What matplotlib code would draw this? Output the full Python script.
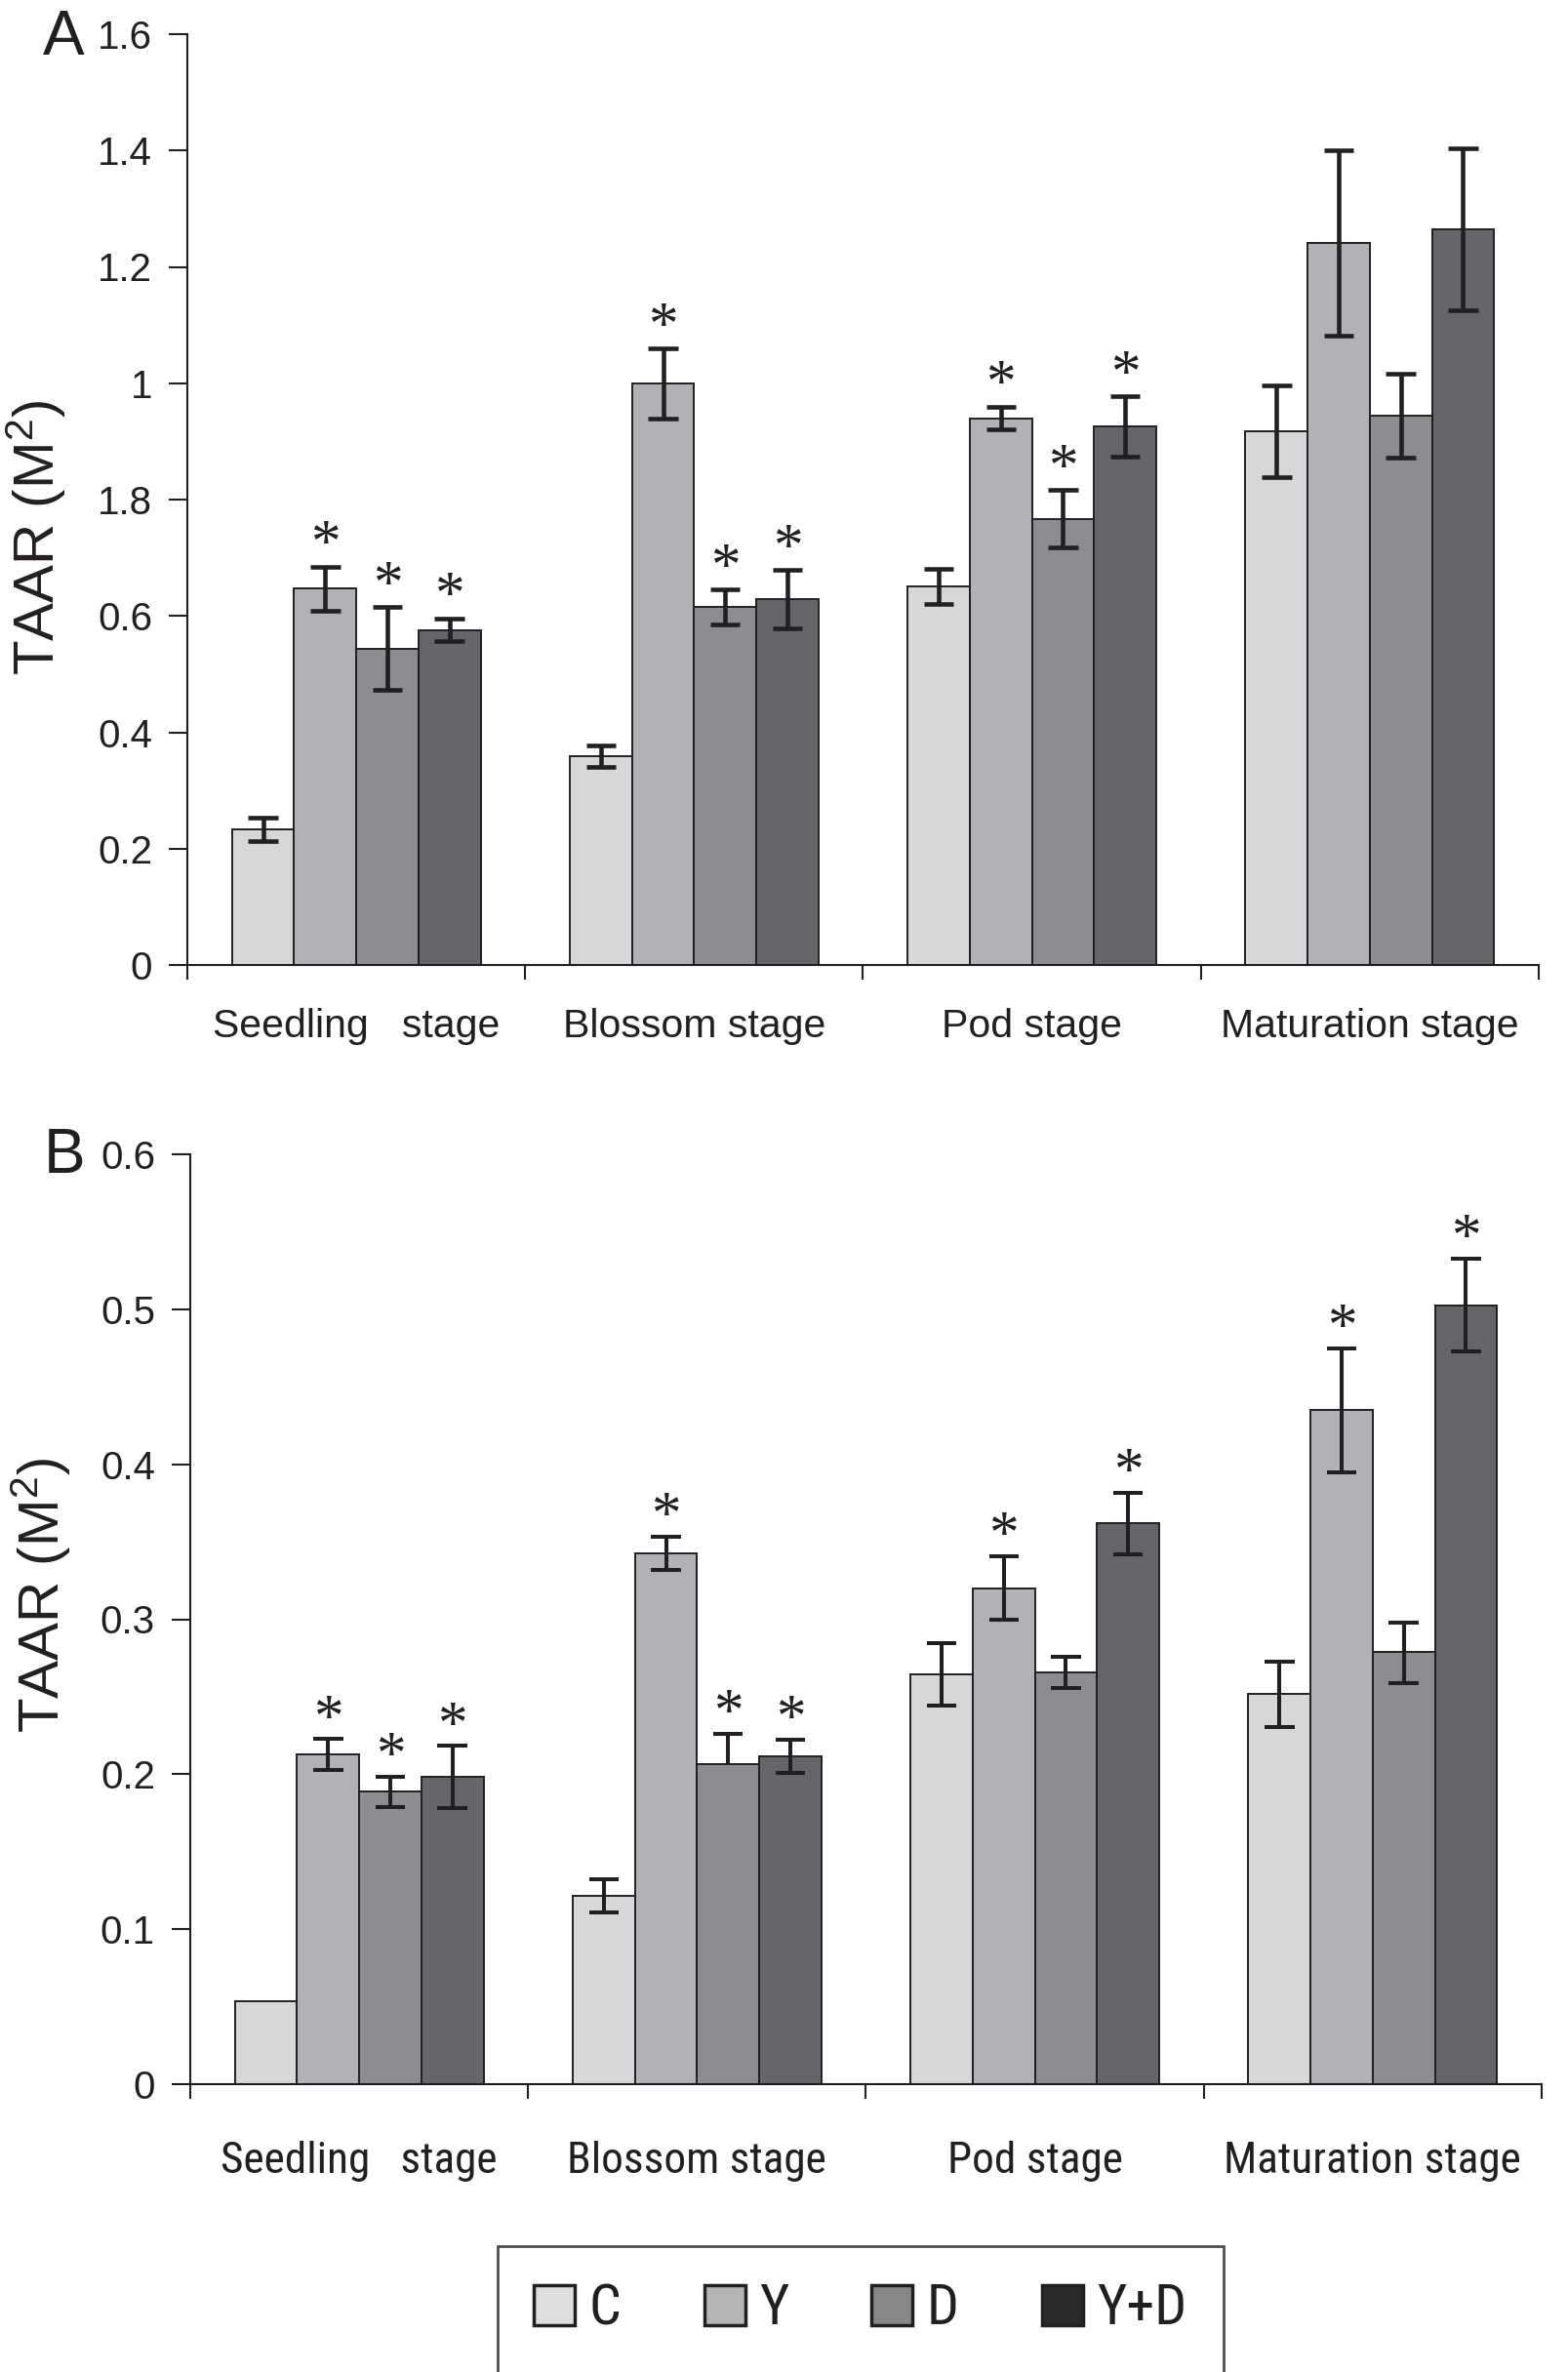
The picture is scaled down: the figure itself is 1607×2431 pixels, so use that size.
import matplotlib
matplotlib.use('Agg')
import matplotlib.pyplot as plt
from matplotlib.patches import Patch
from matplotlib import font_manager as fm
import numpy as np

plt.rcParams['font.family'] = ['Liberation Sans', 'DejaVu Sans']
plt.rcParams['mathtext.default'] = 'regular'

# ---------------- data ----------------
stages = ['Seedling   stage', 'Blossom stage', 'Pod stage', 'Maturation stage']
treatments = ['C', 'Y', 'D', 'Y+D']

# Panel A
a_C = [0.233, 0.359, 0.651, 0.918]
a_Y = [0.647, 1.000, 0.940, 1.241]
a_D = [0.544, 0.615, 0.767, 0.944]
a_YD = [0.576, 0.629, 0.926, 1.265]
a_C_err = [0.020, 0.019, 0.030, 0.079]
a_Y_err = [0.038, 0.060, 0.020, 0.159]
a_D_err = [0.071, 0.030, 0.049, 0.072]
a_YD_err = [0.020, 0.050, 0.052, 0.139]
a_C_sig = [0, 0, 0, 0]
a_Y_sig = [1, 1, 1, 0]
a_D_sig = [1, 1, 1, 0]
a_YD_sig = [1, 1, 1, 0]
a_yticks = [0, 0.2, 0.4, 0.6, 0.8, 1.0, 1.2, 1.4, 1.6]
a_yticklabels = ['0', '0.2', '0.4', '0.6', '1.8', '1', '1.2', '1.4', '1.6']

# Panel B
b_C = [0.0534, 0.1218, 0.2645, 0.2516]
b_Y = [0.2126, 0.3425, 0.3200, 0.4349]
b_D = [0.1886, 0.2062, 0.2655, 0.2789]
b_YD = [0.1982, 0.2116, 0.3617, 0.5027]
b_C_err_lo = [0.0, 0.0107, 0.020, 0.021]
b_C_err_hi = [0.0, 0.0107, 0.020, 0.021]
b_Y_err_lo = [0.010, 0.0107, 0.0205, 0.040]
b_Y_err_hi = [0.010, 0.0107, 0.0205, 0.040]
b_D_err_lo = [0.010, 0.0, 0.010, 0.020]
b_D_err_hi = [0.010, 0.020, 0.010, 0.019]
b_YD_err_lo = [0.020, 0.0105, 0.020, 0.030]
b_YD_err_hi = [0.020, 0.0105, 0.020, 0.030]
b_C_sig = [0, 0, 0, 0]
b_Y_sig = [1, 1, 1, 1]
b_D_sig = [1, 1, 0, 0]
b_YD_sig = [1, 1, 1, 1]
b_yticks = [0, 0.1, 0.2, 0.3, 0.4, 0.5, 0.6]
b_yticklabels = ['0', '0.1', '0.2', '0.3', '0.4', '0.5', '0.6']

# ---------------- style ----------------
bar_colors = ['#d6d7d9', '#b1b2b5', '#8c8d90', '#65666a']
legend_colors = ['#dcdddf', '#b4b5b7', '#87888a', '#2b2a2b']
ink = '#231f20'
bar_w = 0.184
cap_half = 0.044

# look for a condensed sans font for panel B labels / legend
narrow_fp = None
prefs = ['Liberation Sans Narrow', 'Arial Narrow', 'Roboto Condensed',
         'Open Sans Condensed', 'Noto Sans Condensed']
for cand in prefs:
    for f in fm.fontManager.ttflist:
        if f.name == cand and f.style == 'normal' and f.weight in (400, 'normal', 'regular'):
            narrow_fp = f.fname
            break
    if narrow_fp:
        break
if narrow_fp is None:
    for f in fm.fontManager.ttflist:
        if (f.name in ('Roboto', 'Open Sans', 'Noto Sans')
                and f.stretch in ('condensed', 'semi-condensed')
                and f.style == 'normal' and f.weight in (400, 'normal', 'regular')):
            narrow_fp = f.fname
            break


def narrow_props(size):
    if narrow_fp:
        return fm.FontProperties(fname=narrow_fp, size=size)
    return fm.FontProperties(family='Liberation Sans', size=size)


fig = plt.figure(figsize=(16.08, 24.31), dpi=100)
axA = fig.add_axes([192 / 1608, 1442 / 2431, 1385 / 1608, 954 / 2431])
axB = fig.add_axes([195 / 1608, 295 / 2431, 1385 / 1608, 953 / 2431])


def draw_panel(ax, vals, lo, hi, sigs, ylim, yticks, yticklabels,
               ylab_x, ylab_y, err_lw, star_off):
    x = np.arange(len(stages))
    offs = (np.arange(len(treatments)) - 1.5) * bar_w
    for i in range(len(treatments)):
        xs = x + offs[i]
        ax.bar(xs, vals[i], width=bar_w, color=bar_colors[i],
               edgecolor=ink, linewidth=1.4, zorder=2)
        for j in range(len(stages)):
            top = vals[i][j]
            l, h = lo[i][j], hi[i][j]
            if l > 0 or h > 0:
                ax.vlines(xs[j], top - l, top + h, color=ink, lw=err_lw, zorder=3)
                if h > 0:
                    ax.hlines(top + h, xs[j] - cap_half, xs[j] + cap_half,
                              color=ink, lw=err_lw, zorder=3)
                if l > 0:
                    ax.hlines(top - l, xs[j] - cap_half, xs[j] + cap_half,
                              color=ink, lw=err_lw, zorder=3)
            if sigs[i][j]:
                ax.annotate('*', xy=(xs[j], top + h), xytext=(0, star_off),
                            textcoords='offset points', ha='center',
                            va='baseline', fontsize=44,
                            family=['Liberation Serif', 'DejaVu Serif'],
                            color=ink, zorder=4)
    ax.set_xlim(-0.5, len(stages) - 0.5)
    ax.set_ylim(*ylim)
    ax.set_yticks(yticks)
    ax.set_yticklabels(yticklabels)
    ax.set_xticks(x)
    ax.set_xticks(np.arange(len(stages) + 1) - 0.5, minor=True)
    for s in ['top', 'right']:
        ax.spines[s].set_visible(False)
    for s in ['left', 'bottom']:
        ax.spines[s].set_linewidth(1.5)
        ax.spines[s].set_color(ink)
    ax.tick_params(axis='y', length=14, width=1.5, direction='out', pad=12,
                   labelsize=29, colors=ink)
    ax.tick_params(axis='x', which='major', length=0, colors=ink)
    ax.tick_params(axis='x', which='minor', length=11, width=1.5,
                   direction='out', colors=ink)
    ax.set_ylabel('TAAR (M$^\\mathregular{2}$)', fontsize=42, color=ink)
    ax.yaxis.set_label_coords(ylab_x, ylab_y)


draw_panel(axA, [a_C, a_Y, a_D, a_YD],
           [a_C_err, a_Y_err, a_D_err, a_YD_err],
           [a_C_err, a_Y_err, a_D_err, a_YD_err],
           [a_C_sig, a_Y_sig, a_D_sig, a_YD_sig],
           (0, 1.6), a_yticks, a_yticklabels, -0.088, 0.459, 3.3, 4.5)

draw_panel(axB, [b_C, b_Y, b_D, b_YD],
           [b_C_err_lo, b_Y_err_lo, b_D_err_lo, b_YD_err_lo],
           [b_C_err_hi, b_Y_err_hi, b_D_err_hi, b_YD_err_hi],
           [b_C_sig, b_Y_sig, b_D_sig, b_YD_sig],
           (0, 0.6), b_yticks, b_yticklabels, -0.087, 0.526, 2.9, 3.5)

# category labels
axA.set_xticklabels(stages, fontsize=29.5, family=['Liberation Sans', 'DejaVu Sans'])
axA.tick_params(axis='x', which='major', pad=32)

# fit panel-B category font so that "Maturation stage" spans ~305 px
renderer = fig.canvas.get_renderer()
probe_size = 34
probe = fig.text(0, 0, stages[-1], fontproperties=narrow_props(probe_size))
w = probe.get_window_extent(renderer).width
probe.remove()
b_cat_size = probe_size * 305.0 / w
axB.set_xticklabels(stages, fontproperties=narrow_props(b_cat_size))
b_pad_px = 83 - 0.55 * b_cat_size * 100 / 72
axB.tick_params(axis='x', which='major', pad=b_pad_px * 72 / 100)

fig.text(65 / 1608, 1 - 39 / 2431, 'A', fontsize=46, ha='center',
         va='center', color=ink)
fig.text(66 / 1608, 1 - 1185 / 2431, 'B', fontsize=46, ha='center',
         va='center', color=ink)

# legend font fitted so "Y+D" spans ~92 px
probe = fig.text(0, 0, 'Y+D', fontproperties=narrow_props(37))
w = probe.get_window_extent(renderer).width
probe.remove()
leg_size = 37 * 92.0 / w
em_px = leg_size * 100 / 72

handles = [Patch(facecolor=legend_colors[i], edgecolor=ink, linewidth=2.5)
           for i in range(len(treatments))]
leg = fig.legend(handles, treatments, loc='center',
                 bbox_to_anchor=(882 / 1608, 1 - 2367 / 2431), ncol=4,
                 frameon=True, fancybox=False, edgecolor=ink,
                 prop=narrow_props(leg_size),
                 handlelength=42 / em_px, handleheight=42 / em_px,
                 handletextpad=0.25, columnspacing=85 / em_px,
                 borderpad=0.65)
leg.get_frame().set_linewidth(2.0)
for t in leg.get_texts():
    t.set_color(ink)

fig.savefig('out.png', dpi=100, facecolor='white')
